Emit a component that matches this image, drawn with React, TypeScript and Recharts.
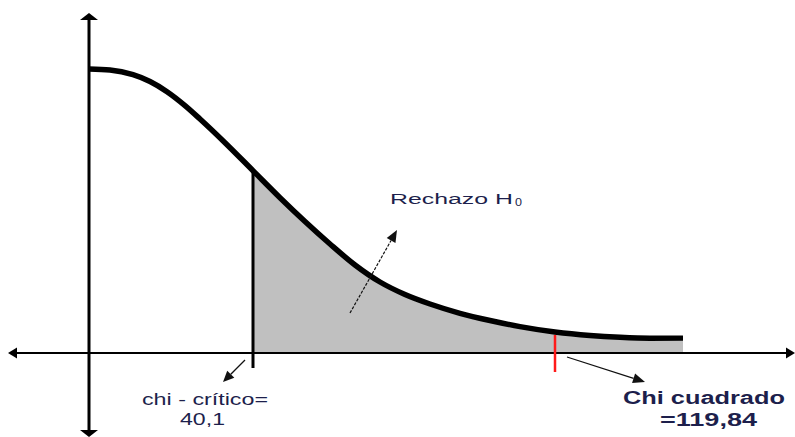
import { ComposedChart, Line, Area, XAxis, YAxis, ReferenceLine, ReferenceDot } from 'recharts';

// curve (schematic units, origin at the axes crossing)
const curveX = [0, 2.1, 4.4, 6.1, 7.8, 9.6, 11.1, 13.6, 16.4, 19.1, 21.6, 24.1, 26.6, 29.1, 31.6, 34.1, 37.1, 40.1, 43.1, 46.6, 50.1, 53.1, 56.1, 59.4];
const curveY = [28.4, 28.3, 27.83, 27.15, 26.13, 24.74, 23.4, 21.03, 18.23, 15.53, 13.15, 10.9, 8.8, 7.1, 5.85, 4.9, 3.97, 3.25, 2.64, 2.1, 1.75, 1.57, 1.48, 1.51];

const critX = 16.4;
const critY = 18.23;
const chiX = 46.6;
const chiY = 1.8;

const criticalLabel = ['chi - crítico=', '40,1'];
const chiLabel = ['Chi cuadrado', '=119,84'];
const regionLabel = 'Rechazo H';
const regionSub = '0';

const xDomain: [number, number] = [-8.1, 70.6];
const yDomain: [number, number] = [-8.4, 34.0];

const data = curveX.map((x, i) => ({
  x,
  y: curveY[i],
  shade: x >= critX ? curveY[i] : null,
}));

const TEXT = '#1d1f4c';
const FONT = "'Liberation Sans', Arial, sans-serif";

const ctx = typeof document !== 'undefined' ? document.createElement('canvas').getContext('2d') : null;

function measure(text: string, size: number, bold: boolean) {
  if (!ctx) return text.length * size * 0.55;
  ctx.font = `${bold ? 'bold ' : ''}${size}px ${FONT}`;
  return ctx.measureText(text).width;
}

interface ArrowOpts {
  start?: boolean;
  end?: boolean;
  len: number;
  half: number;
  color: string;
  width: number;
  dash?: string;
}

function head(tx: number, ty: number, fx: number, fy: number, len: number, half: number) {
  const d = Math.hypot(tx - fx, ty - fy) || 1;
  const ux = (tx - fx) / d;
  const uy = (ty - fy) / d;
  const bx = tx - ux * len;
  const by = ty - uy * len;
  const pts = `${tx},${ty} ${bx - uy * half},${by + ux * half} ${bx + uy * half},${by - ux * half}`;
  return { pts, bx, by };
}

function arrow(o: ArrowOpts) {
  return (p: any) => {
    const { x1, y1, x2, y2 } = p;
    let sx = x1, sy = y1, ex = x2, ey = y2;
    const polys: string[] = [];
    if (o.end) {
      const h = head(x2, y2, x1, y1, o.len, o.half);
      polys.push(h.pts);
      ex = h.bx; ey = h.by;
    }
    if (o.start) {
      const h = head(x1, y1, x2, y2, o.len, o.half);
      polys.push(h.pts);
      sx = h.bx; sy = h.by;
    }
    return (
      <g>
        <line x1={sx} y1={sy} x2={ex} y2={ey} stroke={o.color} strokeWidth={o.width} strokeDasharray={o.dash} />
        {polys.map((pt, i) => (
          <polygon key={i} points={pt} fill={o.color} />
        ))}
      </g>
    );
  };
}

// the source image is stretched sideways, so glyphs get scaled to the measured width
function label(text: string, size: number, length: number, bold = false) {
  return (p: any) => {
    const sx = length / measure(text, size, bold);
    return (
      <text
        transform={`translate(${p.cx},${p.cy}) scale(${sx},1)`}
        fontSize={size}
        fontWeight={bold ? 'bold' : 'normal'}
        fontFamily={FONT}
        fill={TEXT}
      >
        {text}
      </text>
    );
  };
}

export default function App() {
  return (
    <div style={{ position: 'absolute', left: 0, top: 0, background: '#fff' }}>
      <ComposedChart width={795} height={437} data={data} margin={{ top: 13, right: 0, bottom: 0, left: 8 }}>
        <XAxis type="number" dataKey="x" domain={xDomain} allowDataOverflow hide />
        <YAxis type="number" domain={yDomain} allowDataOverflow hide />
        <Area
          type="monotone"
          dataKey="shade"
          baseValue={0}
          fill="#c0c0c0"
          fillOpacity={1}
          stroke="none"
          isAnimationActive={false}
        />
        <ReferenceLine
          segment={[{ x: xDomain[0], y: 0 }, { x: xDomain[1], y: 0 }]}
          ifOverflow="visible"
          shape={arrow({ start: true, end: true, len: 9, half: 5.5, color: '#000', width: 2.2 })}
        />
        <ReferenceLine
          segment={[{ x: 0, y: yDomain[0] }, { x: 0, y: yDomain[1] }]}
          ifOverflow="visible"
          shape={arrow({ start: true, end: true, len: 7, half: 9, color: '#000', width: 3 })}
        />
        <ReferenceLine
          segment={[{ x: critX, y: critY }, { x: critX, y: -1.5 }]}
          ifOverflow="visible"
          stroke="#000"
          strokeWidth={3}
        />
        <ReferenceLine
          segment={[{ x: chiX, y: chiY }, { x: chiX, y: -1.9 }]}
          ifOverflow="visible"
          stroke="#ff1a1a"
          strokeWidth={2.5}
        />
        <Line
          type="monotone"
          dataKey="y"
          stroke="#000"
          strokeWidth={5.5}
          dot={false}
          activeDot={false}
          isAnimationActive={false}
        />
        <ReferenceLine
          segment={[{ x: 26.1, y: 4.0 }, { x: 30.8, y: 12.3 }]}
          ifOverflow="visible"
          shape={arrow({ end: true, len: 12, half: 5, color: '#111', width: 1.2, dash: '3 1.5' })}
        />
        <ReferenceLine
          segment={[{ x: 15.6, y: -0.7 }, { x: 13.4, y: -2.9 }]}
          ifOverflow="visible"
          shape={arrow({ end: true, len: 11, half: 5, color: '#111', width: 1.3 })}
        />
        <ReferenceLine
          segment={[{ x: 47.8, y: -0.4 }, { x: 55.6, y: -2.9 }]}
          ifOverflow="visible"
          shape={arrow({ end: true, len: 12, half: 5, color: '#111', width: 1.3 })}
        />
        <ReferenceDot x={30.1} y={14.9} r={0} ifOverflow="visible" shape={label(regionLabel, 15, 123)} />
        <ReferenceDot x={42.6} y={14.7} r={0} ifOverflow="visible" shape={label(regionSub, 10, 7)} />
        <ReferenceDot x={5.3} y={-5.2} r={0} ifOverflow="visible" shape={label(criticalLabel[0], 16, 126)} />
        <ReferenceDot x={9.1} y={-7.2} r={0} ifOverflow="visible" shape={label(criticalLabel[1], 16, 45)} />
        <ReferenceDot x={53.4} y={-5.1} r={0} ifOverflow="visible" shape={label(chiLabel[0], 19, 162, true)} />
        <ReferenceDot x={57.1} y={-7.3} r={0} ifOverflow="visible" shape={label(chiLabel[1], 19, 97, true)} />
      </ComposedChart>
    </div>
  );
}
